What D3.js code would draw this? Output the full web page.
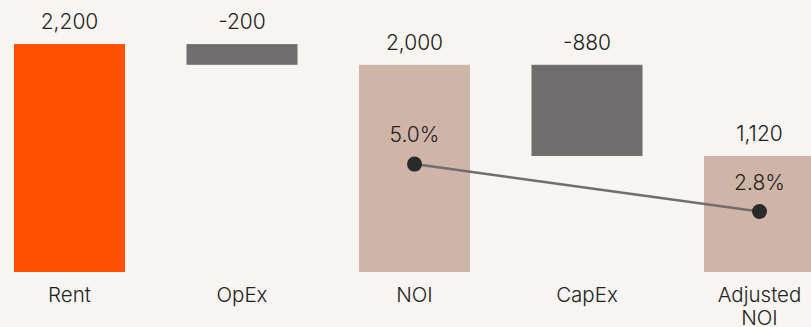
<!DOCTYPE html>
<html>
<head>
<meta charset="utf-8">
<script src="https://cdn.jsdelivr.net/npm/d3@7"></script>
<style>
  html, body { margin: 0; padding: 0; background: #f7f4f1; }
  svg { display: block; }
  text { font-family: Inter, "Noto Sans", sans-serif; font-weight: 350; fill: #222222; }
</style>
</head>
<body>
<svg id="chart" width="811" height="327"></svg>
<script>
const categories = ["Rent", "OpEx", "NOI", "CapEx", "Adjusted NOI"];
const values = [2200, -200, 2000, -880, 1120];
const isTotal = [true, false, true, false, true];
const barColors = ["#ff5000", "#6f6d6e", "#cfb5a7", "#6f6d6e", "#cfb5a7"];
const marginCategories = ["NOI", "Adjusted NOI"];
const marginValues = [5.0, 2.8];

const svg = d3.select("#chart");

const x = d3.scaleBand().domain(categories).range([14, 815]).paddingInner(0.3565).paddingOuter(0);
const y = d3.scaleLinear().domain([0, 2500]).range([272, 13]);
const y2 = d3.scaleLinear().domain([0, 12]).range([272, 13]);

let running = 0;
const bars = categories.map((c, i) => {
  let start, end;
  if (isTotal[i]) { start = 0; end = values[i]; running = values[i]; }
  else { start = running; end = running + values[i]; running = end; }
  return { cat: c, value: values[i], lo: Math.min(start, end), hi: Math.max(start, end), color: barColors[i] };
});

const fmt = d3.formatLocale({ decimal: ".", thousands: ",", grouping: [3], currency: ["$", ""], minus: "-" }).format(",");
const half = x.bandwidth() / 2;

svg.append("g").selectAll("rect").data(bars).join("rect")
  .attr("x", d => x(d.cat))
  .attr("width", x.bandwidth())
  .attr("y", d => y(d.hi))
  .attr("height", d => y(d.lo) - y(d.hi))
  .attr("fill", d => d.color);

svg.append("g").selectAll("text").data(bars).join("text")
  .attr("x", d => x(d.cat) + half)
  .attr("y", d => y(d.hi) - 15)
  .attr("text-anchor", "middle")
  .style("font-size", "21px")
  .text(d => fmt(d.value));

const pts = marginCategories.map((c, i) => ({ cat: c, v: marginValues[i] }));
const cx = d => x(d.cat) + half;
svg.append("path")
  .datum(pts)
  .attr("fill", "none")
  .attr("stroke", "#6f6d6e")
  .attr("stroke-width", 2.5)
  .attr("d", d3.line().x(cx).y(d => y2(d.v)));

svg.append("g").selectAll("circle").data(pts).join("circle")
  .attr("cx", cx)
  .attr("cy", d => y2(d.v))
  .attr("r", 7.5)
  .attr("fill", "#2b2a2b");

svg.append("g").selectAll("text").data(pts).join("text")
  .attr("x", cx)
  .attr("y", d => y2(d.v) - 22)
  .attr("text-anchor", "middle")
  .style("font-size", "21px")
  .text(d => d3.format(".1f")(d.v) + "%");

const axis = svg.append("g")
  .attr("transform", "translate(0,272)")
  .call(d3.axisBottom(x).tickSize(0).tickPadding(0));
axis.select(".domain").remove();
axis.selectAll("text").each(function(d) {
  const t = d3.select(this);
  t.text(null).attr("y", 29.5).attr("dy", null)
   .style("font-size", "20.5px").style("font-family", "Inter, 'Noto Sans', sans-serif")
   .style("font-weight", 350).attr("fill", "#222222");
  d.split(" ").forEach((w, i) => {
    t.append("tspan").attr("x", 0).attr("dy", i === 0 ? 0 : 23).text(w);
  });
});
</script>
</body>
</html>
